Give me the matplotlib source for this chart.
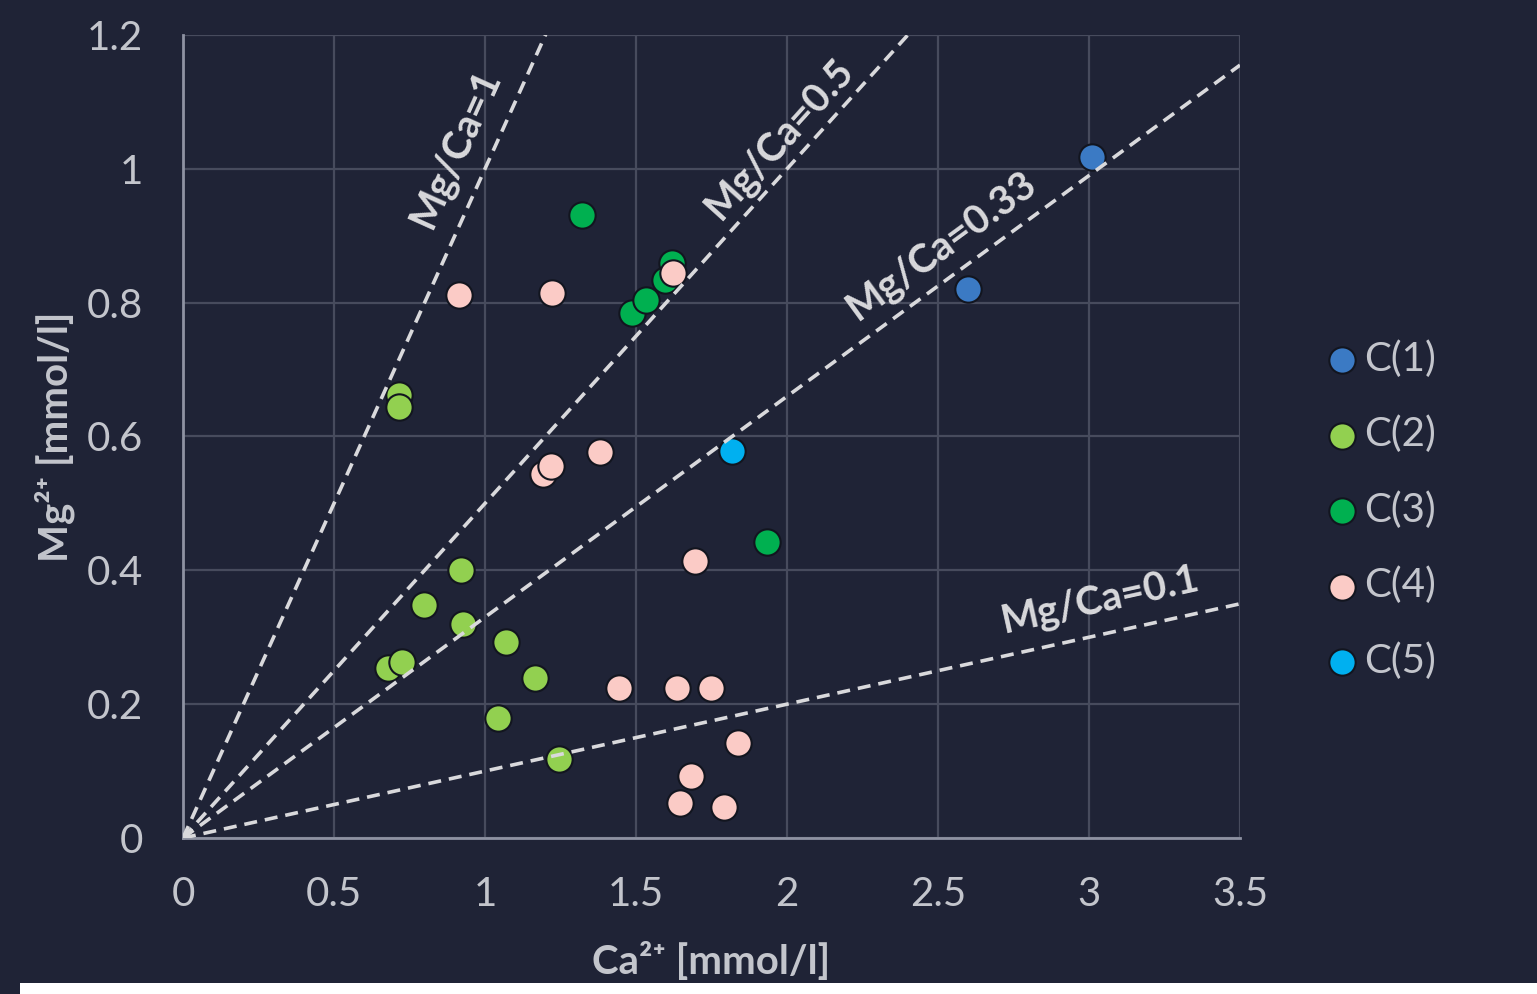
import numpy as np
import matplotlib
matplotlib.use('Agg')
import matplotlib.pyplot as plt
from matplotlib.patches import Rectangle

plt.rcParams['font.family'] = ['Lato', 'DejaVu Sans']

bg = '#1f2336'
grid_col = '#474b5d'
spine_col = '#8e92a2'
txt_col = '#c3c5cc'
line_col = '#d9d9dc'

# Ca2+ (x) and Mg2+ (y) for each cluster, mmol/l
c1_ca = [3.01, 2.60]
c1_mg = [1.018, 0.821]
c2_ca = [0.715, 0.715, 0.921, 0.798, 0.927, 1.070, 1.166, 0.679, 0.725, 1.043, 1.245]
c2_mg = [0.662, 0.644, 0.401, 0.348, 0.320, 0.293, 0.239, 0.254, 0.263, 0.179, 0.118]
c3_ca = [1.321, 1.934, 1.487, 1.533, 1.596, 1.619]
c3_mg = [0.931, 0.442, 0.784, 0.804, 0.834, 0.860]
c4_ca = [0.914, 1.222, 1.623, 1.381, 1.192, 1.219, 1.695, 1.444, 1.636, 1.748, 1.838, 1.682, 1.646, 1.791]
c4_mg = [0.812, 0.815, 0.845, 0.577, 0.544, 0.556, 0.414, 0.224, 0.224, 0.224, 0.142, 0.093, 0.052, 0.046]
c5_ca = [1.818]
c5_mg = [0.578]

clusters = ['C(1)', 'C(2)', 'C(3)', 'C(4)', 'C(5)']
colors = ['#3b7ac4', '#92d050', '#00b050', '#fbcbc6', '#00b0f0']

# reference lines Mg/Ca = const
ratios = [1, 0.5, 0.33, 0.1]
ratio_labels = ['Mg/Ca=1', 'Mg/Ca=0.5', 'Mg/Ca=0.33', 'Mg/Ca=0.1']
label_x = [0.901, 1.975, 2.513, 3.036]
label_y = [1.031, 1.046, 0.886, 0.356]

xticks = [0, 0.5, 1, 1.5, 2, 2.5, 3, 3.5]
xticklabels = ['0', '0.5', '1', '1.5', '2', '2.5', '3', '3.5']
yticks = [0, 0.2, 0.4, 0.6, 0.8, 1.0, 1.2]
yticklabels = ['0', '0.2', '0.4', '0.6', '0.8', '1', '1.2']

fs = 29

fig = plt.figure(figsize=(15.37, 9.94), dpi=100, facecolor=bg)
ax = fig.add_axes([183/1537, 1 - 838/994, (1240-183)/1537, (838-35)/994])
ax.set_facecolor(bg)

data = [(c1_ca, c1_mg), (c2_ca, c2_mg), (c3_ca, c3_mg), (c4_ca, c4_mg), (c5_ca, c5_mg)]
for (xs, ys), lab, col in zip(data, clusters, colors):
    ax.scatter(xs, ys, s=360, color=col, edgecolor='#12151f', linewidth=1.5,
               label=lab, zorder=3)

ax.set_xlim(0, 3.5)
ax.set_ylim(0, 1.2)

xx = np.array([0, 3.5])
for k in ratios:
    ax.plot(xx, k * xx, color=line_col, lw=2.6, dashes=(3.6, 2.2), zorder=4)

for lab, lx, ly, k in zip(ratio_labels, label_x, label_y, ratios):
    ax.text(lx, ly, lab, rotation=np.degrees(np.arctan(k)), transform_rotates_text=True,
            rotation_mode='anchor', ha='center', va='center', fontsize=28.5,
            fontweight='bold', color=line_col, zorder=5)

ax.set_xticks(xticks)
ax.set_xticklabels(xticklabels)
ax.set_yticks(yticks)
ax.set_yticklabels(yticklabels)
ax.tick_params(length=0, labelsize=fs, labelcolor=txt_col)
ax.tick_params(axis='x', pad=27)
ax.tick_params(axis='y', pad=29)

ax.grid(color=grid_col, lw=1.6)
ax.set_axisbelow(True)
for s in ['top', 'right']:
    ax.spines[s].set_visible(False)
for s in ['left', 'bottom']:
    ax.spines[s].set_color(spine_col)
    ax.spines[s].set_linewidth(2)

ax.set_xlabel('Ca²⁺ [mmol/l]', fontsize=fs, fontweight='bold', color=txt_col, labelpad=21)
ax.set_ylabel('Mg²⁺ [mmol/l]', fontsize=fs, fontweight='bold', color=txt_col, labelpad=8)

leg = ax.legend(loc='center left', bbox_to_anchor=(1314/1537, 1 - 510/994),
                bbox_transform=fig.transFigure, frameon=False, fontsize=fs,
                handlelength=0.6, handletextpad=0.25, labelspacing=0.94,
                scatterpoints=1, borderpad=0.4, borderaxespad=0)
for t in leg.get_texts():
    t.set_color(txt_col)

# white strip at the bottom edge of the screenshot
fig.add_artist(Rectangle((20/1537, 0), 1, 11/994, transform=fig.transFigure,
                         facecolor='white', edgecolor='none'))

fig.savefig('out.png', dpi=100, facecolor=bg)
